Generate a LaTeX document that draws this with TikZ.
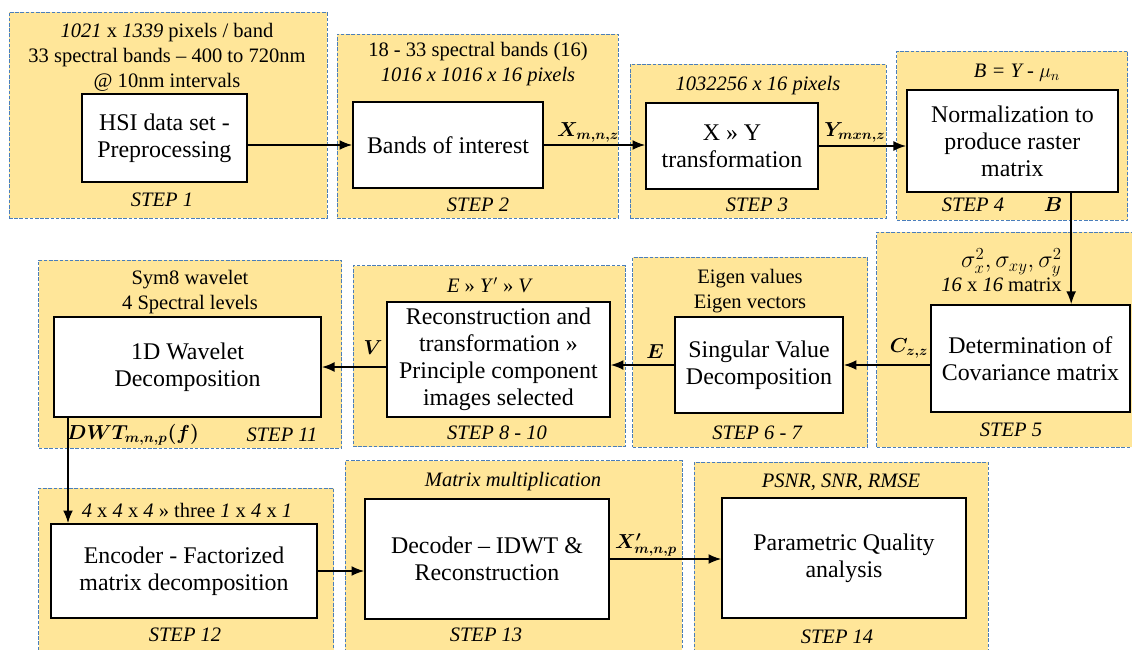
\documentclass[tikz,border=0pt]{standalone}
\usepackage{fontspec}
\setmainfont{Liberation Serif}
\usepackage{bm}
\usetikzlibrary{arrows.meta}
\definecolor{panelfill}{HTML}{FFE699}
\definecolor{panelline}{HTML}{4A7EBB}
\newcommand{\boxfont}{\fontsize{17}{19.2}\selectfont}
\newcommand{\notefont}{\fontsize{14.6}{17.8}\selectfont}

\begin{document}
\begin{tikzpicture}[
  panel/.style={rectangle, draw=panelline, fill=panelfill, line width=0.6pt,
                dash pattern=on 2.5pt off 1.2pt},
  block/.style={rectangle, draw, line width=1.1pt, fill=white, align=center, font=\boxfont},
  note/.style={align=center, font=\notefont, inner sep=0pt},
  stepl/.style={font=\notefont\itshape, inner sep=0pt},
  lab/.style={font=\notefont, inner sep=0pt},
  arr/.style={-{Latex[length=9pt,width=7pt]}, line width=1.2pt}
]
  \useasboundingbox (0,0) rectangle (28.3,-16.225);

  % Panels
  \node[panel, minimum width=7.95cm, minimum height=5.15cm] (p1) at (4.2,-2.875) {};
  \node[panel, minimum width=7.025cm, minimum height=4.6cm] (p2) at (11.94,-3.15) {};
  \node[panel, minimum width=6.4cm, minimum height=3.85cm] (p3) at (18.95,-3.525) {};
  \node[panel, minimum width=5.775cm, minimum height=4.225cm] (p4) at (25.31,-3.39) {};
  \node[panel, minimum width=6.575cm, minimum height=5.375cm] (p5) at (25.21,-8.49) {};
  \node[panel, minimum width=5.875cm, minimum height=4.75cm] (p6) at (18.76,-8.8) {};
  \node[panel, minimum width=6.8cm, minimum height=4.525cm] (p7) at (12.225,-8.91) {};
  \node[panel, minimum width=7.575cm, minimum height=4.7cm] (p8) at (4.76,-8.85) {};
  \node[panel, minimum width=7.375cm, minimum height=4.3cm] (p9) at (4.66,-14.35) {};
  \node[panel, minimum width=8.425cm, minimum height=4.975cm] (p10) at (12.84,-14.01) {};
  \node[panel, minimum width=7.35cm, minimum height=4.95cm] (p11) at (21.025,-14.025) {};

  \node[block, minimum width=4.125cm, minimum height=2.2cm] (hsi) at (4.11,-3.45) {HSI data set -\\Preprocessing};
  \node[block, minimum width=4.75cm, minimum height=2.15cm] (bands) at (11.2,-3.625) {Bands of interest};
  \node[block, minimum width=4.3cm, minimum height=2.15cm] (xy) at (18.3,-3.65) {X » Y\\transformation};
  \node[block, minimum width=5.275cm, minimum height=2.55cm] (norm) at (25.31,-3.525) {Normalization to\\produce raster\\matrix};
  \node[block, minimum width=4.975cm, minimum height=2.675cm] (cov) at (25.76,-8.96) {Determination of\\Covariance matrix};
  \node[block, minimum width=4.2cm, minimum height=2.4cm] (svd) at (18.975,-9.125) {Singular Value\\Decomposition};
  \node[block, minimum width=5.575cm, minimum height=2.875cm] (recon) at (12.46,-8.99) {Reconstruction and\\transformation »\\Principle component\\images selected};
  \node[block, minimum width=6.675cm, minimum height=2.5cm] (wav) at (4.69,-9.175) {1D Wavelet\\Decomposition};
  \node[block, minimum width=6.65cm, minimum height=2.35cm] (enc) at (4.6,-14.275) {Encoder - Factorized\\matrix decomposition};
  \node[block, minimum width=6.1cm, minimum height=3cm] (dec) at (12.175,-13.975) {Decoder – IDWT \&\\Reconstruction};
  \node[block, minimum width=6.1cm, minimum height=3cm] (pq) at (21.1,-13.95) {Parametric Quality\\analysis};

  \coordinate (drop) at (26.78,0);
  \coordinate (down) at (1.7,0);
  \draw[arr] (hsi.east |- bands.west) -- (bands.west);
  \draw[arr] (bands.east) -- (xy.west |- bands.east);
  \draw[arr] (xy.east) -- (norm.west |- xy.east);
  \draw[arr] (norm.south -| drop) -- (cov.north -| drop);
  \draw[arr] (cov.west |- svd.east) -- (svd.east);
  \draw[arr] (svd.west) -- (recon.east |- svd.west);
  \draw[arr] (recon.west |- wav.east) -- (wav.east);
  \draw[arr] (wav.south -| down) -- (enc.north -| down);
  \draw[arr] (enc.east) -- (dec.west |- enc.east);
  \draw[arr] (dec.east) -- (pq.west |- dec.east);

  % Notes
  \node[note] (n1) at (4.175,-1.425) {\textit{1021} x \textit{1339} pixels / band\\33 spectral bands – 400 to 720nm\\@ 10nm intervals};
  \node[note] (n2) at (11.95,-1.6125) {18 - 33 spectral bands (16)\\\textit{1016 x 1016 x 16 pixels}};
  \node[note] (n3) at (18.95,-2.15) {\textit{1032256 x 16 pixels}};
  \node[note] (n4) at (25.425,-1.825) {\textit{B = Y -} $\mu_n$};
  \node[note, anchor=east, align=right] (n5) at (26.55,-6.75) {{\boxfont$\sigma_x^2, \sigma_{xy}, \sigma_y^2$}\\[-1pt]\textit{16} x \textit{16} matrix};
  \node[note] (n6) at (18.75,-7.275) {Eigen values\\Eigen vectors};
  \node[note] (n7) at (12.25,-7.125) {\textit{E} » \textit{Y}$'$ » \textit{V}};
  \node[note] (n8) at (4.75,-7.3125) {Sym8 wavelet\\4 Spectral levels};
  \node[note] (n9) at (4.675,-12.75) {\textit{4} x \textit{4} x \textit{4} » three \textit{1} x \textit{4} x \textit{1}};
  \node[note] (n10) at (12.825,-12.05) {\textit{Matrix multiplication}};
  \node[note] (n11) at (21.025,-12.05) {\textit{PSNR, SNR, RMSE}};

  \node[lab] (xl) at (14.7,-3.3) {$\bm{X_{m,n,z}}$};
  \node[lab] (yl) at (21.375,-3.3) {$\bm{Y_{mxn,z}}$};
  \node[lab] (bl) at (26.325,-5.125) {$\bm{B}$};
  \node[lab] (cl) at (22.725,-8.7) {$\bm{C_{z,z}}$};
  \node[lab] (el) at (16.375,-8.8) {$\bm{E}$};
  \node[lab] (vl) at (9.325,-8.7) {$\bm{V}$};
  \node[lab] (dl) at (3.325,-10.875) {$\bm{DWT_{m,n,p}(f)}$};
  \node[lab] (xpl) at (16.15,-13.625) {$\bm{X'_{m,n,p}}$};

  \node[stepl] (s1) at (4.05,-5.0) {STEP 1};
  \node[stepl] (s2) at (11.95,-5.125) {STEP 2};
  \node[stepl] (s3) at (18.925,-5.125) {STEP 3};
  \node[stepl] (s4) at (24.325,-5.125) {STEP 4};
  \node[stepl] (s5) at (25.275,-10.75) {STEP 5};
  \node[stepl] (s6) at (18.925,-10.825) {STEP 6 - 7};
  \node[stepl] (s7) at (12.425,-10.825) {STEP 8 - 10};
  \node[stepl] (s8) at (7.05,-10.875) {STEP 11};
  \node[stepl] (s9) at (4.625,-15.875) {STEP 12};
  \node[stepl] (s10) at (12.15,-15.875) {STEP 13};
  \node[stepl] (s11) at (20.925,-15.925) {STEP 14};
\end{tikzpicture}
\end{document}
